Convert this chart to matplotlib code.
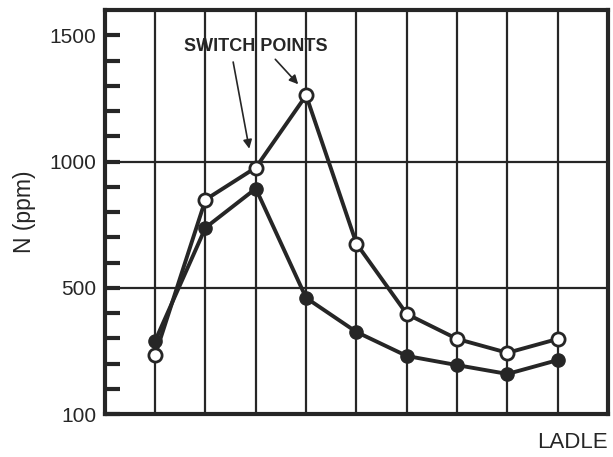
import numpy as np
import matplotlib
matplotlib.use("Agg")
import matplotlib.pyplot as plt

# ladle number vs nitrogen content (ppm)
ladle = [1, 2, 3, 4, 5, 6, 7, 8, 9]
n_open = [287, 849, 976, 1262, 675, 417, 338, 294, 338]
n_filled = [332, 738, 893, 468, 360, 284, 255, 227, 271]

y_ticks = [100, 500, 1000, 1500]
y_minor = [180, 260, 340, 420, 600, 700, 800, 900, 1100, 1200, 1300, 1400]

INK = "#262626"


# the chart's y axis is drawn with 100-500 taking the same length as 500-1000
def fwd(v):
    v = np.asarray(v, dtype=float)
    return np.where(v <= 500, (v - 100) / 80.0, 5 + (v - 500) / 100.0)


def inv(p):
    p = np.asarray(p, dtype=float)
    return np.where(p <= 5, 100 + p * 80.0, 500 + (p - 5) * 100.0)


plt.rcParams["font.family"] = ["Liberation Sans", "DejaVu Sans"]

fig = plt.figure(figsize=(6.13, 4.57), dpi=100)
ax = fig.add_axes([0.171, 0.094, 0.821, 0.884])
ax.set_yscale("function", functions=(fwd, inv))
ax.set_ylim(100, 1600)
ax.set_xlim(0, 10)

for x in ladle:
    ax.axvline(x, color=INK, lw=1.6, zorder=1)
for y in (500, 1000):
    ax.axhline(y, color=INK, lw=1.6, zorder=1)

ax.plot(ladle, n_filled, color=INK, lw=2.8, marker="o", ms=9.5,
        mfc=INK, mec=INK, zorder=3)
ax.plot(ladle, n_open, color=INK, lw=2.8, marker="o", ms=9.5,
        mfc="white", mec=INK, mew=2, zorder=4)

ax.set_yticks(y_ticks)
ax.set_yticks(y_minor, minor=True)
ax.set_xticks([])
ax.tick_params(axis="y", which="both", direction="in", length=11, width=3,
               color=INK, labelsize=15, labelcolor=INK, pad=6)
for side in ("top", "bottom", "left", "right"):
    ax.spines[side].set_linewidth(3)
    ax.spines[side].set_color(INK)

ax.set_ylabel("N (ppm)", fontsize=16.5, color=INK, labelpad=10)
ax.text(1.0, -0.045, "LADLE", transform=ax.transAxes, ha="right", va="top",
        fontsize=16, color=INK)

ax.text(3.0, 1456, "SWITCH POINTS", ha="center", va="center",
        fontsize=13, color=INK, fontweight="bold")
arrow = dict(arrowstyle="-|>", color=INK, lw=1.2, mutation_scale=13)
ax.annotate("", xy=(2.88, 1040), xytext=(2.54, 1405), arrowprops=arrow)
ax.annotate("", xy=(3.88, 1298), xytext=(3.35, 1413), arrowprops=arrow)

fig.savefig("out.png", dpi=100, facecolor="white")
